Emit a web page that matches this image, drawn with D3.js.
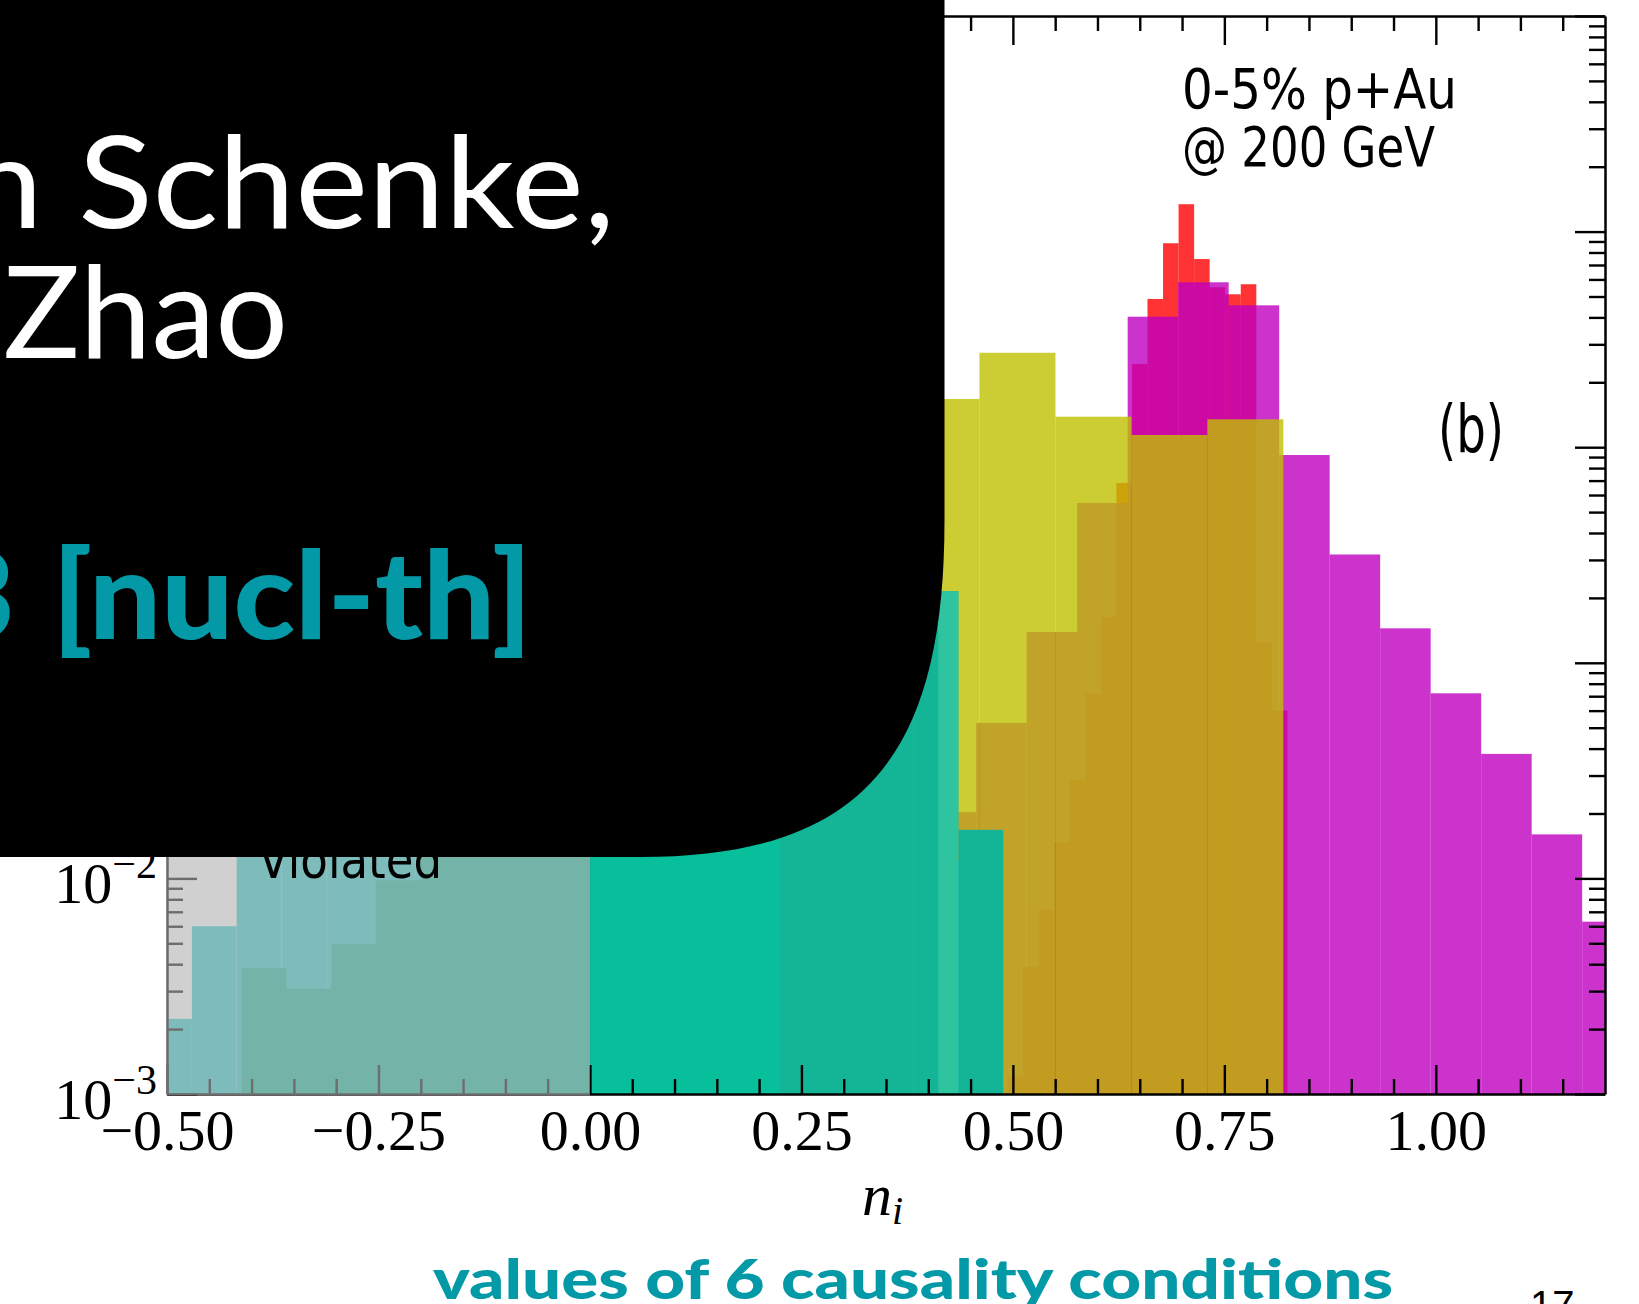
<!DOCTYPE html>
<html>
<head>
<meta charset="utf-8">
<script src="https://cdn.jsdelivr.net/npm/d3@7"></script>
<style>
  html, body { margin: 0; padding: 0; background: #fff; overflow: hidden; }
  svg { display: block; }
</style>
</head>
<body>
<svg id="chart" width="1639" height="1304"></svg>
<script>
// ---- Histogram data: normalised counts per bin for the six causality conditions ----
// each series: first bin edge, bin width, bin heights
const redStart = 0.4937, redWidth = 0.01838;
const redCounts = [0.00122, 0.00388, 0.00713, 0.01476, 0.02856, 0.0716, 0.163, 0.682, 2.43,
                   4.87, 8.83, 13.4, 7.46, 5.52, 5.12, 5.70, 0.124, 0.06];

const magentaStart = 0.3372, magentaWidth = 0.0597;
const magentaCounts = [0.006, 0.0203, 0.0526, 0.139, 0.551, 4.03, 5.82, 4.55, 0.92, 0.318,
                       0.1445, 0.0722, 0.0378, 0.016, 0.0063];

const yellowStart = 0.0115, yellowWidth = 0.0898;
const yellowCounts = [0.004, 0.012, 0.05, 0.25, 1.674, 2.742, 1.385, 1.139, 1.347];

const cyanStart = -0.5235, cyanWidth = 0.05295;
const cyanCounts = [0.00223, 0.0060, 0.03, 0.05, 0.08, 0.1, 0.15, 0.2, 0.3, 0.35, 0.4, 0.4,
                    0.35, 0.3, 0.25, 0.2, 0.15, 0.1, 0.012];

const greenStart = -0.5175, greenWidth = 0.05295;
const greenCounts = [0, 0, 0.00384, 0.00307, 0.00497, 0.0098, 0.035, 0.07, 0.12, 0.2, 0.3,
                     0.42, 0.5, 0.55, 0.55, 0.5, 0.4, 0.215, 0.0168];

const tealStart = 0.0015, tealWidth = 0.0555;
const tealCounts = [0.45, 0.6, 0.5, 0.35];

const lightTealStart = 0.4118, lightTealWidth = 0.0236;
const lightTealCounts = [0.215];

// axis ticks
const xMajorTicks = [-0.5, -0.25, 0, 0.25, 0.5, 0.75, 1.0];
const xMinorTicks = [-0.45, -0.4, -0.35, -0.3, -0.2, -0.15, -0.1, -0.05, 0.05, 0.1, 0.15, 0.2,
                     0.3, 0.35, 0.4, 0.45, 0.55, 0.6, 0.65, 0.7, 0.8, 0.85, 0.9, 0.95, 1.05,
                     1.1, 1.15];
const yMajorTicks = [1e-3, 1e-2, 1e-1, 1e0, 1e1, 1e2];
// labelled decades on the left axis (the upper ones sit under the title panel)
const yLabelTicks = [1e-3, 1e-2];
const yLabelExponents = ["\u22123", "\u22122"];

// ---- series table (draw order: bottom to top) ----
const series = [
  { start: redStart, width: redWidth, counts: redCounts, color: "#ff0000", opacity: 0.8 },
  { start: magentaStart, width: magentaWidth, counts: magentaCounts, color: "#bf00bf", opacity: 0.8 },
  { start: yellowStart, width: yellowWidth, counts: yellowCounts, color: "#bfbf00", opacity: 0.8 },
  { start: cyanStart, width: cyanWidth, counts: cyanCounts, color: "#2ccaca", opacity: 1 },
  { start: greenStart, width: greenWidth, counts: greenCounts, color: "#14b496", opacity: 1 },
  { start: tealStart, width: tealWidth, counts: tealCounts, color: "#08bf9c", opacity: 1 },
  { start: lightTealStart, width: lightTealWidth, counts: lightTealCounts, color: "#2ec4a0", opacity: 1 }
];

const W = 1639, H = 1304;
const plot = { left: 167, right: 1605, top: 16, bottom: 1094 };

const svg = d3.select("#chart");
svg.append("rect").attr("width", W).attr("height", H).attr("fill", "#fff");

const x = d3.scaleLinear().domain([-0.5, 1.2]).range([plot.left, plot.right]);
const y = d3.scaleLog().domain([1e-3, 1e2]).range([plot.bottom, plot.top]);

svg.append("defs").append("clipPath").attr("id", "plotClip")
  .append("rect")
  .attr("x", plot.left).attr("y", plot.top)
  .attr("width", plot.right - plot.left).attr("height", plot.bottom - plot.top);

// ---- bars ----
const barLayer = svg.append("g").attr("clip-path", "url(#plotClip)");
series.forEach(s => {
  const bins = s.counts
    .map((c, i) => ({ x0: s.start + i * s.width, x1: s.start + (i + 1) * s.width, c }))
    .filter(b => b.c > 0);
  barLayer.append("g")
    .attr("fill", s.color)
    .attr("fill-opacity", s.opacity)
    .selectAll("rect")
    .data(bins)
    .join("rect")
    .attr("x", b => x(b.x0))
    .attr("width", b => x(b.x1) - x(b.x0))
    .attr("y", b => y(b.c))
    .attr("height", b => plot.bottom - y(b.c));
});

// ---- axes (ticks pointing inward on all four sides) ----
const serif = "'Liberation Serif', 'Times New Roman', serif";
const majorLen = 29, minorLen = 15;

function styleAxis(g) {
  g.select(".domain").attr("stroke", "#000").attr("stroke-width", 2.5);
  g.selectAll(".tick line").attr("stroke", "#000").attr("stroke-width", 2.4);
}

const gxBottom = svg.append("g")
  .attr("transform", `translate(0,${plot.bottom})`)
  .call(d3.axisBottom(x).tickValues(xMajorTicks).tickSize(-majorLen).tickSizeOuter(0)
        .tickPadding(15).tickFormat(d3.format(".2f")));
styleAxis(gxBottom);
gxBottom.selectAll(".tick text")
  .attr("font-family", serif).attr("font-size", 58).attr("fill", "#000");

const gxBottomMinor = svg.append("g")
  .attr("transform", `translate(0,${plot.bottom})`)
  .call(d3.axisBottom(x).tickValues(xMinorTicks).tickSize(-minorLen).tickFormat(""));
gxBottomMinor.select(".domain").remove();
styleAxis(gxBottomMinor);

const gxTop = svg.append("g")
  .attr("transform", `translate(0,${plot.top})`)
  .call(d3.axisTop(x).tickValues(xMajorTicks).tickSize(-majorLen).tickSizeOuter(0).tickFormat(""));
styleAxis(gxTop);
const gxTopMinor = svg.append("g")
  .attr("transform", `translate(0,${plot.top})`)
  .call(d3.axisTop(x).tickValues(xMinorTicks).tickSize(-minorLen).tickFormat(""));
gxTopMinor.select(".domain").remove();
styleAxis(gxTopMinor);

const yMinorTicks = y.ticks().filter(v => !yMajorTicks.some(m => Math.abs(m - v) / m < 1e-9));

[[plot.left, d3.axisLeft], [plot.right, d3.axisRight]].forEach(([px, axisFn]) => {
  const gMaj = svg.append("g")
    .attr("transform", `translate(${px},0)`)
    .call(axisFn(y).tickValues(yMajorTicks).tickSize(-30).tickSizeOuter(0).tickFormat(""));
  styleAxis(gMaj);
  const gMin = svg.append("g")
    .attr("transform", `translate(${px},0)`)
    .call(axisFn(y).tickValues(yMinorTicks).tickSize(-16).tickFormat(""));
  gMin.select(".domain").remove();
  styleAxis(gMin);
});

// y tick labels: 10^k
const yLabels = svg.append("g").attr("font-family", serif).attr("fill", "#000");
yLabelTicks.forEach((v, i) => {
  const t = yLabels.append("text")
    .attr("x", 157).attr("y", y(v) + 25)
    .attr("text-anchor", "end");
  t.append("tspan").attr("font-size", 58).text("10");
  t.append("tspan").attr("font-size", 42).attr("dy", -25).text(yLabelExponents[i]);
});

// x axis title n_i
const xTitle = svg.append("text")
  .attr("x", 862).attr("y", 1215)
  .attr("font-family", serif).attr("font-style", "italic").attr("fill", "#000");
xTitle.append("tspan").attr("font-size", 60).text("n");
xTitle.append("tspan").attr("font-size", 40).attr("dy", 9).text("i");

// ---- shaded "Violated" region (n < 0), laid over bars and axes ----
svg.append("rect")
  .attr("x", x(-0.5) - 1).attr("y", plot.top - 1)
  .attr("width", x(0) - x(-0.5) + 1).attr("height", plot.bottom - plot.top + 2.5)
  .attr("fill", "rgb(178,178,178)").attr("fill-opacity", 0.61);

const sans = "'DejaVu Sans', 'Noto Sans', sans-serif";
svg.append("text")
  .attr("x", 258).attr("y", 878)
  .attr("font-family", sans).attr("font-size", 52).attr("fill", "#000")
  .attr("textLength", 184).attr("lengthAdjust", "spacingAndGlyphs")
  .text("Violated");

// in-plot annotations
svg.append("text")
  .attr("x", 1182).attr("y", 108)
  .attr("font-family", sans).attr("font-size", 55).attr("fill", "#000")
  .attr("textLength", 275).attr("lengthAdjust", "spacingAndGlyphs")
  .text("0-5% p+Au");
svg.append("text")
  .attr("x", 1182).attr("y", 166)
  .attr("font-family", sans).attr("font-size", 55).attr("fill", "#000")
  .attr("textLength", 253).attr("lengthAdjust", "spacingAndGlyphs")
  .text("@ 200 GeV");
svg.append("text")
  .attr("x", 1438).attr("y", 452)
  .attr("font-family", sans).attr("font-size", 66).attr("fill", "#000")
  .attr("textLength", 66).attr("lengthAdjust", "spacingAndGlyphs")
  .text("(b)");

// ---- slide title panel ----
svg.append("path")
  .attr("d", "M0,0 H944.5 V520 C944.5,760 860,857 640,857 H0 Z")
  .attr("fill", "#000");

const slideFont = "Lato, 'Open Sans', 'Noto Sans', sans-serif";
svg.append("text")
  .attr("x", -34).attr("y", 228)
  .attr("font-family", slideFont).attr("font-size", 128).attr("fill", "#fff")
  .attr("textLength", 649).attr("lengthAdjust", "spacingAndGlyphs")
  .text("n Schenke,");
svg.append("text")
  .attr("x", 3).attr("y", 358)
  .attr("font-family", slideFont).attr("font-size", 128).attr("fill", "#fff")
  .attr("textLength", 285).attr("lengthAdjust", "spacingAndGlyphs")
  .text("Zhao");

const teal = "#0399a7";
svg.append("text")
  .attr("x", 15).attr("y", 639).attr("text-anchor", "end")
  .attr("font-family", slideFont).attr("font-weight", 900).attr("font-size", 122).attr("fill", teal)
  .text("3");
svg.append("text")
  .attr("x", 52).attr("y", 639)
  .attr("font-family", slideFont).attr("font-weight", 900).attr("font-size", 122).attr("fill", teal)
  .attr("textLength", 480).attr("lengthAdjust", "spacingAndGlyphs")
  .text("[nucl-th]");

svg.append("text")
  .attr("x", 433).attr("y", 1299)
  .attr("font-family", slideFont).attr("font-weight", 900).attr("font-size", 56).attr("fill", teal)
  .attr("textLength", 960).attr("lengthAdjust", "spacingAndGlyphs")
  .text("values of 6 causality conditions");

svg.append("text")
  .attr("x", 1530).attr("y", 1319)
  .attr("font-family", "'Liberation Sans', Arial, sans-serif").attr("font-size", 40).attr("fill", "#000")
  .text("17");
</script>
</body>
</html>
